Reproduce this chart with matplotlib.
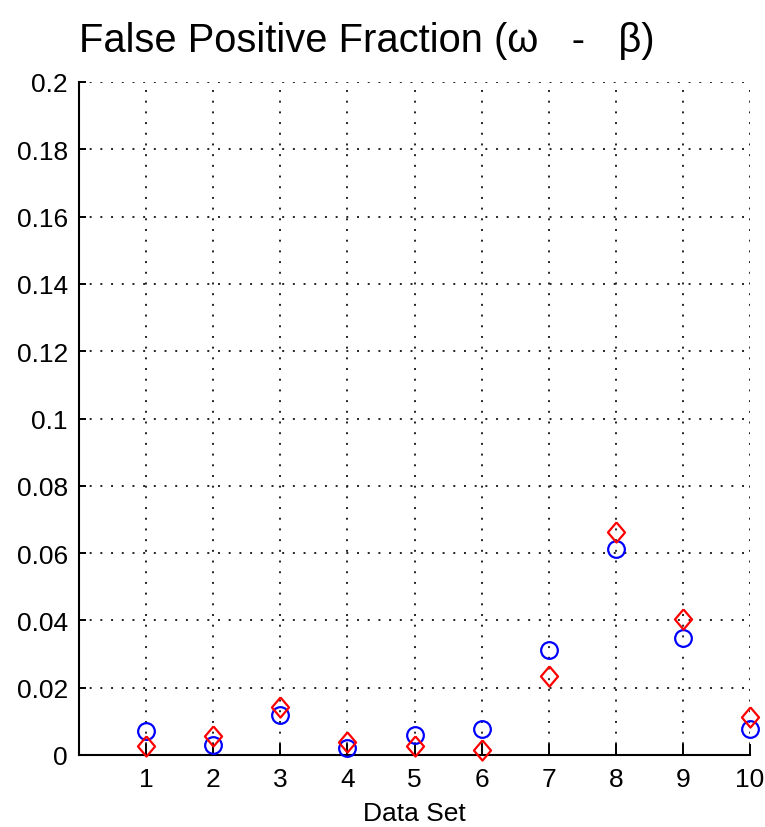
import matplotlib
matplotlib.use("Agg")
import matplotlib.pyplot as plt
import numpy as np

data_sets = [1, 2, 3, 4, 5, 6, 7, 8, 9, 10]
omega_vals = [0.0071, 0.0030, 0.0118, 0.0022, 0.0059, 0.0077, 0.0312, 0.0612, 0.0348, 0.0077]
beta_vals = [0.0027, 0.0056, 0.0143, 0.0040, 0.0027, 0.0015, 0.0235, 0.0663, 0.0404, 0.0113]
y_ticks = [0, 0.02, 0.04, 0.06, 0.08, 0.1, 0.12, 0.14, 0.16, 0.18, 0.2]
y_tick_labels = ["0", "0.02", "0.04", "0.06", "0.08", "0.1", "0.12", "0.14", "0.16", "0.18", "0.2"]

plt.rcParams['font.family'] = ['Liberation Sans', 'DejaVu Sans']

fig = plt.figure(figsize=(7.65, 8.28), dpi=100)
ax = fig.add_axes([79/765, 1 - 756/828, (750 - 79)/765, (756 - 83)/828])

diamond = [(0, 1.0), (0.85, 0), (0, -1.0), (-0.85, 0), (0, 1.0)]

ax.plot(data_sets, omega_vals, linestyle='none', marker='o', markersize=12,
        markerfacecolor='none', markeredgecolor=(0, 0, 1), markeredgewidth=1.6,
        clip_on=False, zorder=3)
ax.plot(data_sets, beta_vals, linestyle='none', marker=diamond, markersize=14.5,
        markerfacecolor='none', markeredgecolor=(1, 0, 0), markeredgewidth=1.6,
        clip_on=False, zorder=4)

ax.set_xlim(0, 10)
ax.set_ylim(0, 0.2)
ax.set_xticks(data_sets)
ax.set_xticklabels([str(d) for d in data_sets])
ax.set_yticks(y_ticks)
ax.set_yticklabels(y_tick_labels)

ax.grid(True, color='#222222', linestyle=(0, (1, 4.5)), linewidth=1.4)
ax.set_axisbelow(True)

for s in ['top', 'right']:
    ax.spines[s].set_visible(False)
for s in ['left', 'bottom']:
    ax.spines[s].set_linewidth(1.5)
    ax.spines[s].set_color('black')

ax.tick_params(axis='x', direction='in', length=8, width=1.4, labelsize=19, pad=9)
ax.tick_params(axis='y', direction='in', length=5, width=1.4, labelsize=19, pad=8)

ax.set_xlabel("Data Set", fontsize=19, labelpad=7)
ax.set_title("False Positive Fraction (ω   -   β)", fontsize=28.7, loc='left', pad=22)

fig.savefig("out.png", dpi=100)
